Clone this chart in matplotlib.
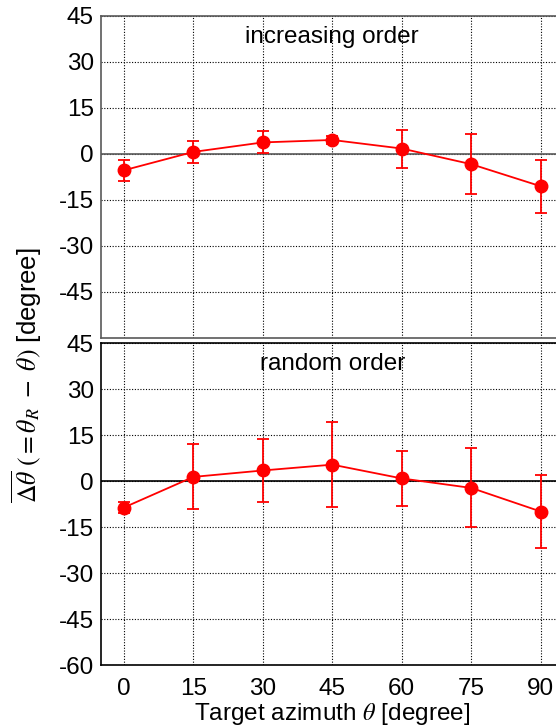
import matplotlib
matplotlib.use('Agg')
import matplotlib.pyplot as plt

plt.rcParams['font.family'] = ['Liberation Sans', 'DejaVu Sans']
plt.rcParams['mathtext.fontset'] = 'stix'
plt.rcParams['axes.unicode_minus'] = False

# data
azimuth = [0, 15, 30, 45, 60, 75, 90]
inc_mean = [-5.4, 0.6, 3.7, 4.5, 1.7, -3.4, -10.6]
inc_err = [3.5, 3.5, 3.6, 1.2, 6.2, 9.8, 8.6]
rnd_mean = [-8.6, 1.4, 3.5, 5.4, 0.9, -2.2, -9.9]
rnd_err = [1.8, 10.6, 10.2, 13.8, 9.1, 12.9, 12.0]

yticks_top = [-45, -30, -15, 0, 15, 30, 45]
yticks_bot = [-60, -45, -30, -15, 0, 15, 30, 45]

fig = plt.figure(figsize=(5.56, 7.26), dpi=100)
ax1 = fig.add_axes([0.1811, 0.5349, 0.8331, 0.4433])
ax2 = fig.add_axes([0.1811, 0.0840, 0.8331, 0.4431])

panels = [(ax1, inc_mean, inc_err, 'increasing order', yticks_top, '0.35'),
          (ax2, rnd_mean, rnd_err, 'random order', yticks_bot, 'black')]

for ax, m, e, name, yt, c in panels:
    ax.axhline(0, color=c, lw=1.2, zorder=1)
    ax.errorbar(azimuth, m, yerr=e, color='red', marker='o', markersize=9,
                lw=1.3, elinewidth=1.3, capsize=4, capthick=1.3, zorder=3)
    ax.set_xlim(-5, 95)
    ax.set_ylim(-60, 45)
    ax.set_xticks(azimuth)
    ax.set_yticks(yt)
    ax.grid(True, color='black', linestyle=(0, (1, 1.5)), lw=0.8)
    ax.set_axisbelow(True)
    ax.tick_params(length=0, labelsize=17.5, pad=5)
    for s in ax.spines.values():
        s.set_color(c)
        s.set_linewidth(1.2)
    ax.text(0.5, 0.935, name, transform=ax.transAxes, ha='center', va='center',
            fontsize=17.5)

ax1.tick_params(labelbottom=False)
ax2.tick_params(axis='x', pad=9)
ax2.set_xlabel(r'Target azimuth $\theta$ [degree]', fontsize=17.5, labelpad=1)

fig.text(0.048, 0.4835, r'$\overline{\Delta\theta}\ (=\theta_R\ -\ \theta)$ [degree]',
         rotation=90, ha='center', va='center', fontsize=18.5)

fig.savefig('out.png', dpi=100)
